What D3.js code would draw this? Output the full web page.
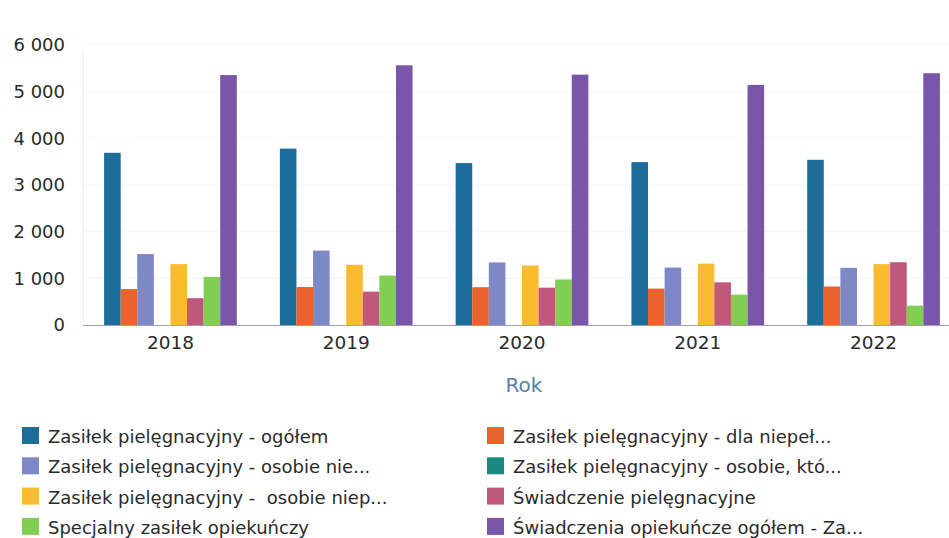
<!DOCTYPE html>
<html>

<head>
	<meta charset="utf-8">
	<title>Zasiłki</title>
	<script src="https://d3js.org/d3.v7.min.js"></script>
	<style>
		body {
			margin: 0;
			padding: 0;
			background: white;
			overflow: hidden;
		}

		text {
			font-family: "DejaVu Sans", "Open Sans", sans-serif;
			fill: #222;
		}
	</style>
</head>

<body>
	<script>
		// data
		var years = ["2018", "2019", "2020", "2021", "2022"];
		var seriesNames = [
			"Zasiłek pielęgnacyjny - ogółem",
			"Zasiłek pielęgnacyjny - dla niepeł...",
			"Zasiłek pielęgnacyjny - osobie nie...",
			"Zasiłek pielęgnacyjny - osobie, któ...",
			"Zasiłek pielęgnacyjny -  osobie niep...",
			"Świadczenie pielęgnacyjne",
			"Specjalny zasiłek opiekuńczy",
			"Świadczenia opiekuńcze ogółem - Za..."
		];
		var seriesColors = ["#1d6d9c", "#e8632e", "#7f88c6", "#1a8a80", "#fbbb30", "#c0587c", "#80cf52", "#7a56aa"];
		var ogolem = [3690, 3780, 3470, 3490, 3540];
		var dlaNiepel = [770, 815, 810, 780, 825];
		var osobieNie = [1520, 1595, 1340, 1230, 1225];
		var osobieKto = [0, 0, 0, 0, 0];
		var osobieNiep = [1305, 1290, 1275, 1315, 1305];
		var swiadczenie = [575, 715, 800, 915, 1345];
		var specjalny = [1030, 1060, 975, 650, 415];
		var opiekuncze = [5355, 5565, 5365, 5145, 5395];
		var seriesValues = [ogolem, dlaNiepel, osobieNie, osobieKto, osobieNiep, swiadczenie, specjalny, opiekuncze];
		var yTicks = [0, 1000, 2000, 3000, 4000, 5000, 6000];

		var width = 949,
			height = 538;
		var margin = { top: 45, left: 83, bottom: 325 };

		var svg = d3.select("body").append("svg")
			.attr("width", width)
			.attr("height", height);

		var x0 = d3.scaleBand().domain(years).range([margin.left, 961]).paddingInner(0.245).paddingOuter(0.12);
		var x1 = d3.scaleBand().domain(d3.range(seriesNames.length)).range([0, x0.bandwidth()]).padding(0);
		var y = d3.scaleLinear().domain([0, 6000]).range([margin.bottom, margin.top]);

		var pl = d3.formatLocale({ decimal: ",", thousands: " ", grouping: [3], currency: ["", " zł"] });

		// faint grid
		svg.append("g").selectAll("line").data(yTicks.slice(1)).enter().append("line")
			.attr("x1", margin.left).attr("x2", width)
			.attr("y1", (d) => y(d)).attr("y2", (d) => y(d))
			.style("stroke", "#f3f3f6").style("stroke-width", 1);

		// vertical axis line
		svg.append("line")
			.attr("x1", margin.left).attr("x2", margin.left)
			.attr("y1", y(6000) + 8).attr("y2", y(0))
			.style("stroke", "#e2ecf2").style("stroke-width", 1);

		var yAxis = svg.append("g")
			.attr("transform", "translate(" + (margin.left - 18) + ",0)")
			.call(d3.axisLeft(y).tickValues(yTicks).tickSize(0).tickPadding(0).tickFormat(pl.format(",d")));
		yAxis.select(".domain").remove();
		yAxis.selectAll("text").style("font-size", "18px").style("fill", "#2a2a2a");

		var groups = svg.append("g").selectAll("g")
			.data(years)
			.enter().append("g")
			.attr("transform", (d) => "translate(" + x0(d) + ",0)");

		groups.selectAll("rect")
			.data((d, i) => seriesValues.map((s, k) => ({ k: k, v: s[i] })))
			.enter().append("rect")
			.attr("x", (d) => x1(d.k))
			.attr("width", x1.bandwidth())
			.attr("y", (d) => y(d.v))
			.attr("height", (d) => y(0) - y(d.v))
			.style("fill", (d) => seriesColors[d.k]);

		// baseline
		svg.append("line")
			.attr("x1", margin.left).attr("x2", width)
			.attr("y1", y(0) + 0.5).attr("y2", y(0) + 0.5)
			.style("stroke", "#a79ab8").style("stroke-width", 1.2);

		var xAxis = svg.append("g")
			.attr("transform", "translate(0," + y(0) + ")")
			.call(d3.axisBottom(x0).tickSize(0).tickPadding(11));
		xAxis.select(".domain").remove();
		xAxis.selectAll("text").style("font-size", "18.5px").style("fill", "#2a2a2a");

		svg.append("text")
			.attr("x", x0("2020") + x0.bandwidth() / 2 + 2)
			.attr("y", 392)
			.attr("text-anchor", "middle")
			.style("font-size", "20px")
			.style("fill", "#5a7ea6")
			.text("Rok");

		// legend, two columns
		var legend = svg.append("g").selectAll("g")
			.data(seriesNames)
			.enter().append("g")
			.attr("transform", (d, i) => "translate(" + (i % 2 == 0 ? 22 : 487) + "," + (427 + Math.floor(i / 2) * 30.3) + ")");

		legend.append("rect")
			.attr("width", 17).attr("height", 17)
			.style("fill", (d, i) => seriesColors[i]);

		legend.append("text")
			.attr("x", 26).attr("y", 16)
			.style("font-size", "18px")
			.style("fill", "#2a2a2a")
			.style("white-space", "pre")
			.text((d) => d);
	</script>
</body>

</html>
